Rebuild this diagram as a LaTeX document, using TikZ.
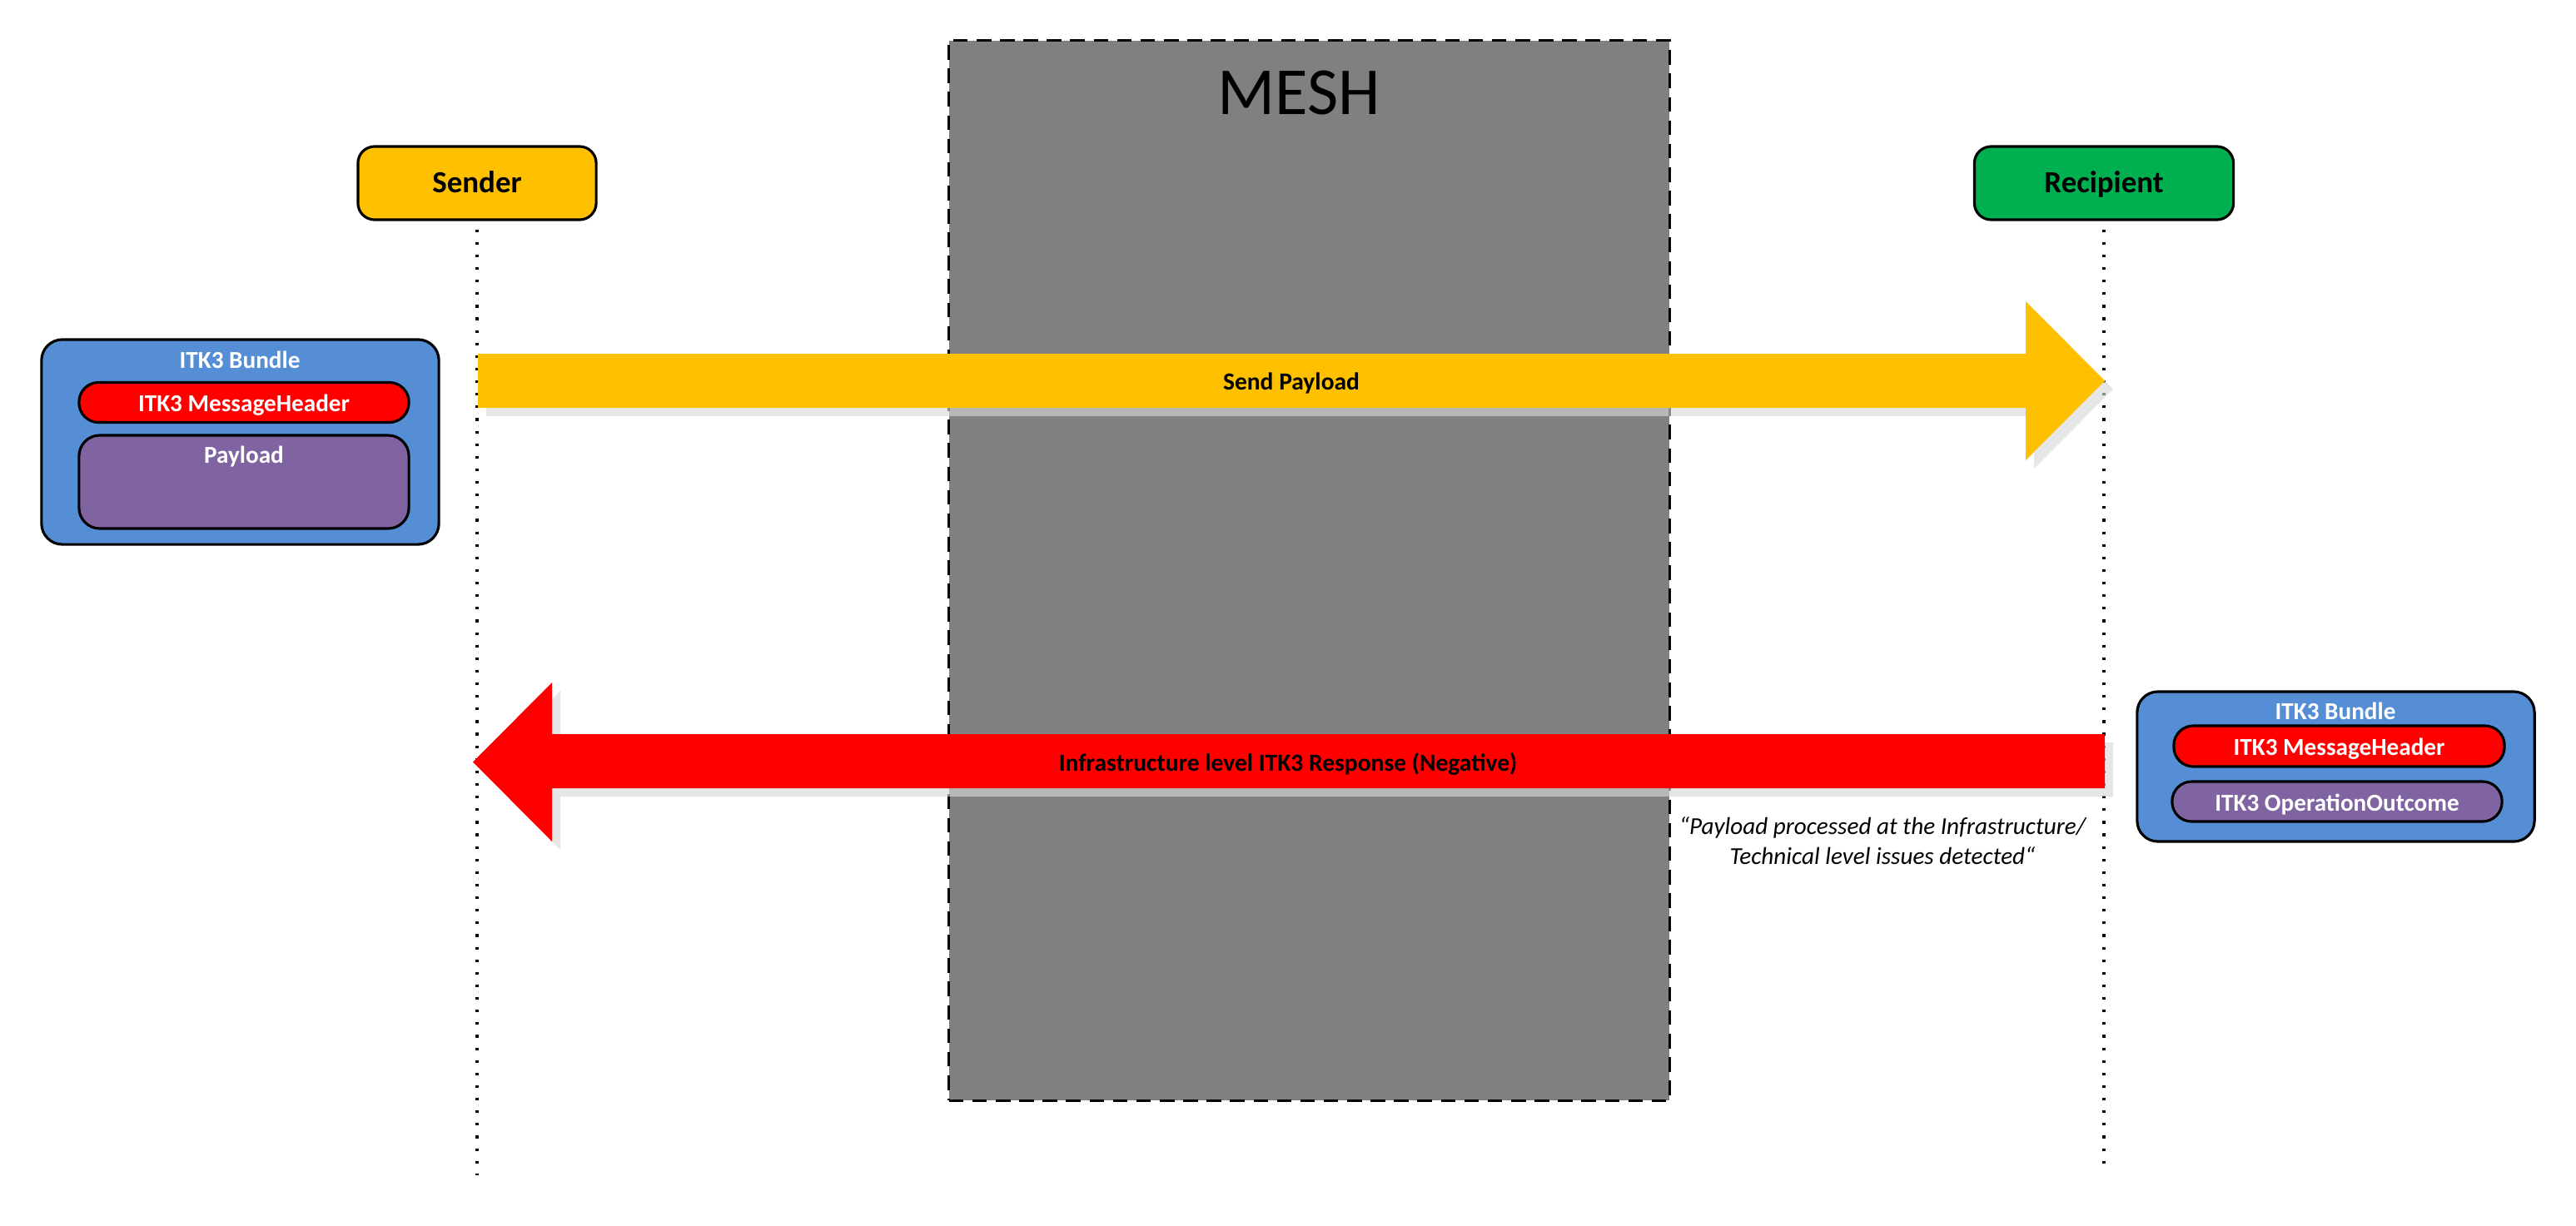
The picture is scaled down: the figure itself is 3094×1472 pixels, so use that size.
\documentclass[tikz,border=0pt]{standalone}
\usepackage{fontspec}
\setmainfont{Carlito}
\definecolor{cyellow}{HTML}{FFC000}
\definecolor{cgreen}{HTML}{00B050}
\definecolor{cblue}{HTML}{558ED5}
\definecolor{cpurple}{HTML}{8064A2}
\definecolor{cred}{HTML}{FF0000}
\definecolor{cgray}{HTML}{808080}
\definecolor{cshadow}{HTML}{D8D8D8}
\begin{document}
\begin{tikzpicture}[x=0.01cm,y=-0.01cm,
  outl/.style={draw=black,line width=0.9pt},
  actor/.style={outl,rounded corners=0.2cm,minimum width=2.86cm,minimum height=0.88cm,inner sep=0pt,
    font=\fontsize{10.5}{12}\selectfont\bfseries,text height=0.644em,text depth=0pt},
  bundlebox/.style={outl,fill=cblue,rounded corners=0.25cm,minimum width=4.77cm,inner sep=0pt},
  pill/.style={outl,rounded corners=0.235cm,minimum width=3.96cm,minimum height=0.48cm,inner sep=0pt,
    text=white,font=\fontsize{8.3}{10}\selectfont\bfseries,text height=0.644em,text depth=0pt},
  wtitle/.style={inner sep=0pt,text=white,font=\fontsize{8.3}{10}\selectfont\bfseries,text height=0.644em,text depth=0pt},
  arrowlabel/.style={inner sep=0pt,text=black,font=\fontsize{8.4}{10}\selectfont\bfseries,text height=0.644em,text depth=0pt},
  lifeline/.style={line width=0.9pt,dash pattern=on 0.9pt off 3.4pt},
  shadowfill/.style={fill=cshadow,fill opacity=0.64}
]
\useasboundingbox (0,0) rectangle (3094,1472);
\fill[white] (0,0) rectangle (3094,1472);

% MESH
\node[draw=black,line width=0.9pt,dash pattern=on 5pt off 3pt,fill=cgray,minimum width=8.65cm,minimum height=12.73cm,inner sep=0pt] (mesh) at (1572.5,685.5) {};
\node[anchor=base,inner sep=0pt,font=\fontsize{23}{27}\selectfont] (meshlabel) at (1560,137) {MESH};

% actors
\node[actor,fill=cyellow] (sender) at (573,220) {Sender};
\node[actor,fill=cgreen,minimum width=3.11cm] (recipient) at (2527,220) {Recipient};

% lifelines
\coordinate (sendend) at (573,1412);
\coordinate (recend) at (2527,1405);
\draw[lifeline] (sender.south) ++(0,10) -- (sendend);
\draw[lifeline] (recipient.south) ++(0,10) -- (recend);

% Send Payload arrow
\fill[shadowfill,shift={(10,10)}] (574,425) -- (2433,425) -- (2433,362) -- (2528,457.5) -- (2433,553) -- (2433,490) -- (574,490) -- cycle;
\fill[cyellow] (574,425) -- (2433,425) -- (2433,362) -- (2528,457.5) -- (2433,553) -- (2433,490) -- (574,490) -- cycle;
\node[arrowlabel] (sendlabel) at (1551,457) {Send Payload};

% Negative response arrow
\fill[shadowfill,shift={(10,10)}] (2528,882) -- (663,882) -- (663,820) -- (568,915.5) -- (663,1011) -- (663,947) -- (2528,947) -- cycle;
\fill[cred] (2528,882) -- (663,882) -- (663,820) -- (568,915.5) -- (663,1011) -- (663,947) -- (2528,947) -- cycle;
\node[arrowlabel] (neglabel) at (1547,915) {Infrastructure level ITK3 Response (Negative)};

% note
\node[inner sep=0pt,align=center,font=\fontsize{8.3}{10.3}\selectfont\itshape] (note) at (2261,1010) {“Payload processed at the Infrastructure/\\Technical level issues detected“};

% left bundle
\node[bundlebox,minimum height=2.46cm] (bundleL) at (288.5,531) {};
\node[wtitle] (bundleLtitle) at (288,431) {ITK3 Bundle};
\node[pill,fill=cred] (headerL) at (293,483.5) {ITK3 MessageHeader};
\node[outl,fill=cpurple,rounded corners=0.25cm,minimum width=3.96cm,minimum height=1.12cm,inner sep=0pt] (payload) at (293,579) {};
\node[wtitle] (payloadlabel) at (293,545) {Payload};

% right bundle
\node[bundlebox,minimum height=1.80cm] (bundleR) at (2805.5,921) {};
\node[wtitle] (bundleRtitle) at (2805,853) {ITK3 Bundle};
\node[pill,fill=cred,minimum width=3.97cm,minimum height=0.49cm] (headerR) at (2809.5,896.5) {ITK3 MessageHeader};
\node[pill,fill=cpurple] (outcome) at (2807,963) {ITK3 OperationOutcome};
\end{tikzpicture}
\end{document}
